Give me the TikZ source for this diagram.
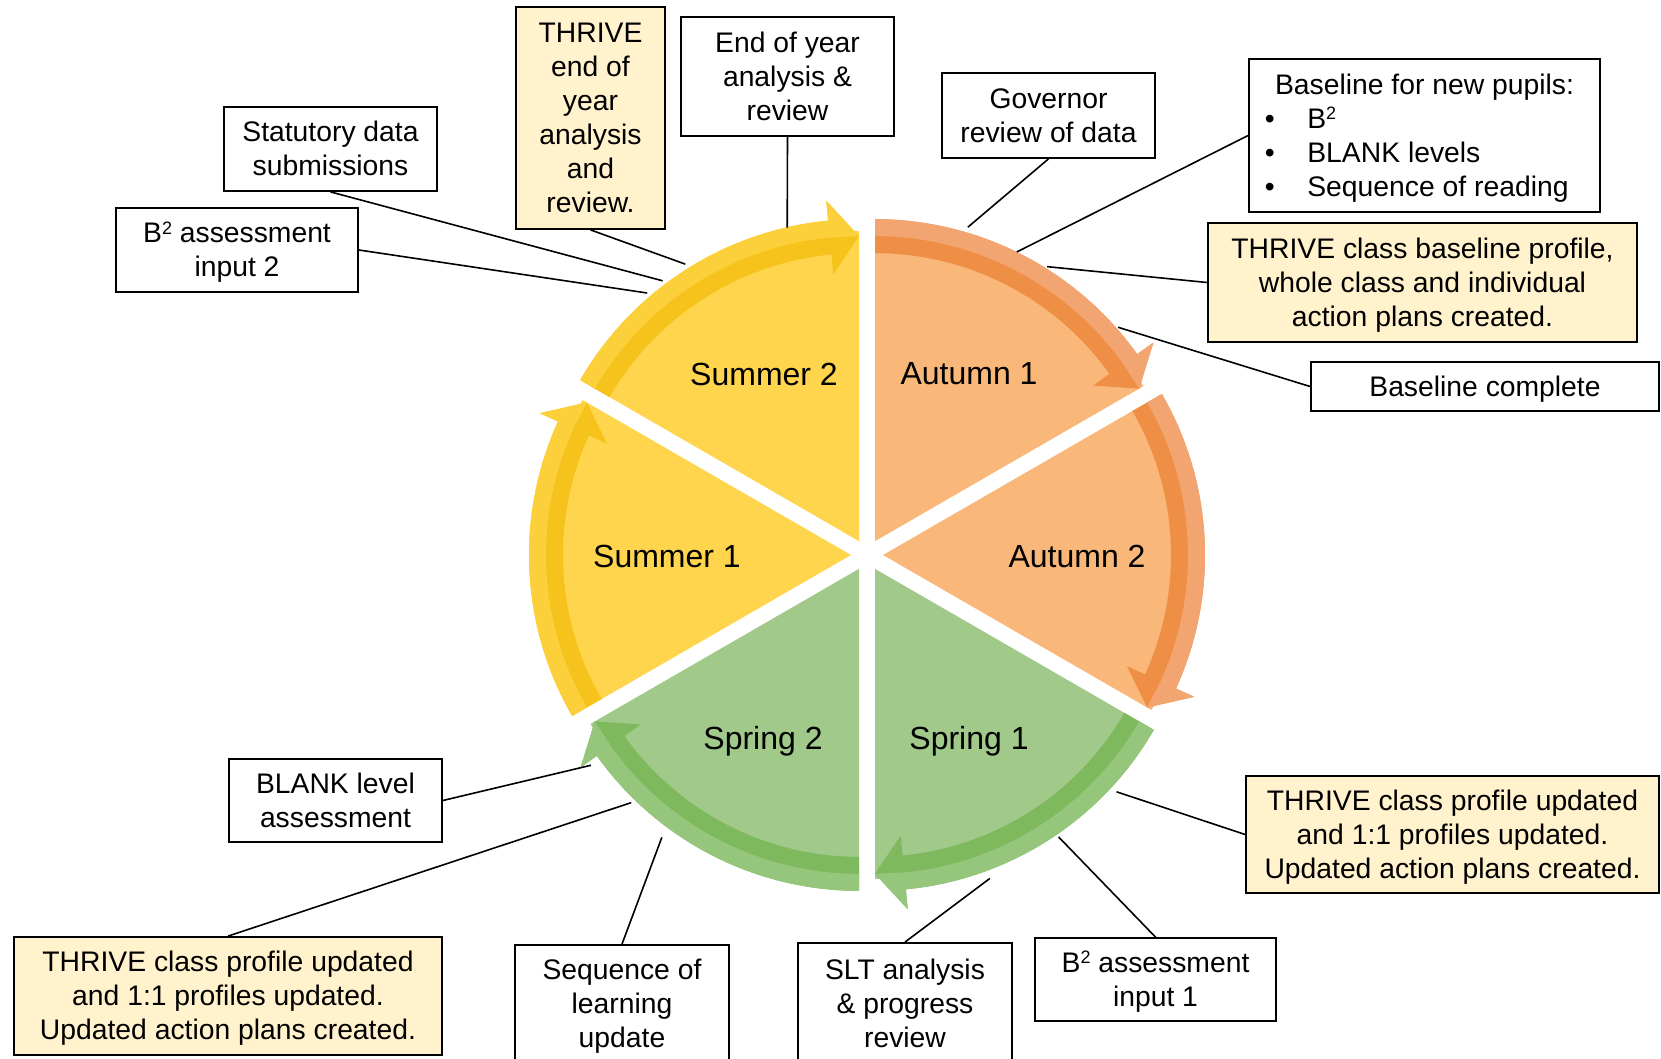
\documentclass[tikz,border=0pt]{standalone}
\usepackage{fontspec}
\setmainfont{Liberation Sans}
\usetikzlibrary{calc}

\definecolor{sumfill}{HTML}{FFD54D}
\definecolor{sumdark}{HTML}{F6C31C}
\definecolor{sumlight}{HTML}{FCD03A}
\definecolor{autfill}{HTML}{F9B779}
\definecolor{autdark}{HTML}{EF8F46}
\definecolor{autlight}{HTML}{F2A571}
\definecolor{sprfill}{HTML}{A0C98A}
\definecolor{sprdark}{HTML}{7EB95D}
\definecolor{sprlight}{HTML}{95C67C}
\definecolor{thrivebg}{HTML}{FFF2CC}

\newcommand{\Bsq}{B\raisebox{0.3em}{\fontsize{9}{9}\selectfont 2}}

\begin{document}
\begin{tikzpicture}[x=0.5pt, y=-0.5pt,
    box/.style={draw, line width=0.9pt, fill=white, align=center, inner sep=0pt,
        font=\fontsize{14.15}{17}\selectfont},
    thrive/.style={box, fill=thrivebg},
    sz/.style 2 args={minimum width=#1*0.5pt, minimum height=#2*0.5pt},
    ln/.style={text height=#1, text depth=3pt},
    season/.style={font=\fontsize{16}{19}\selectfont},
    link/.style={line width=0.8pt}]
    \useasboundingbox (0,0) rectangle (1661,1059);
    \coordinate (c) at (867,555);
    % wedges, each with its arrow on the rim
    \foreach \s/\fl/\dk/\lt in {-90/autfill/autdark/autlight, -30/autfill/autdark/autlight,
        30/sprfill/sprdark/sprlight, 90/sprfill/sprdark/sprlight,
        150/sumfill/sumdark/sumlight, 210/sumfill/sumdark/sumlight}{
        \pgfmathsetmacro\m{\s+30}
        \pgfmathsetmacro\e{\s+60}
        \pgfmathsetmacro\h{\s+54.5}
        \coordinate (a) at ($(c)+(\m:16)$);
        \fill[\fl] (a) -- ($(a)+(\s:310)$) arc[start angle=\s, end angle=\e, radius=310] -- cycle;
        \fill[\dk] ($(a)+(\s:288)$) arc[start angle=\s, end angle=\h, radius=288]
            -- ($(a)+(\h:268)$) -- ($(a)+(\e:305)$) -- ($(a)+(\h:342)$) -- ($(a)+(\h:322)$)
            arc[start angle=\h, end angle=\s, radius=322] -- cycle;
        \fill[\lt] ($(a)+(\s:305)$) arc[start angle=\s, end angle=\h, radius=305]
            -- ($(a)+(\e:305)$) -- ($(a)+(\h:342)$) -- ($(a)+(\h:322)$)
            arc[start angle=\h, end angle=\s, radius=322] -- cycle;
    }
    \node[season] (sum2) at (764,374) {Summer 2};
    \node[season] (aut1) at (969,374) {Autumn 1};
    \node[season] (sum1) at (667,556) {Summer 1};
    \node[season] (aut2) at (1077,556) {Autumn 2};
    \node[season] (spr2) at (763,741) {Spring 2};
    \node[season] (spr1) at (969,741) {Spring 1};

    \node[box, sz={213}{84}, ln=29.8pt] (stat) at (330.5,149) {Statutory data\\submissions};
    \node[box, sz={242}{84}, ln=29.8pt] (bsq2) at (237,250) {\Bsq{} assessment\\input 2};
    \node[thrive, sz={149}{222}, ln=97.8pt] (thrend) at (590.5,118) {THRIVE\\end of\\year\\analysis\\and\\review.};
    \node[box, sz={213}{119}, ln=46.8pt] (endyr) at (787.5,76.5) {End of year\\analysis \&\\review};
    \node[box, sz={213}{85}, ln=29.8pt] (gov) at (1048.5,115.5) {Governor\\review of data};
    \node[box, sz={351}{153}, ln=63.8pt] (newpup) at (1424.5,135.5) {%
        \begin{tabular}[b]{@{}l@{\hspace{16.25pt}}l@{\hspace{7.75pt}}}
        \multicolumn{2}{@{}c@{}}{Baseline for new pupils:}\\
        \textbullet & \Bsq\\
        \textbullet & BLANK levels\\
        \textbullet & Sequence of reading
        \end{tabular}};
    \node[thrive, sz={429}{119}, ln=46.8pt] (thrbase) at (1422.5,282.5) {THRIVE class baseline profile,\\whole class and individual\\action plans created.};
    \node[box, sz={348}{49}, ln=12.8pt] (basedone) at (1485,386.5) {Baseline complete};
    \node[thrive, sz={413}{117}, ln=46.8pt] (thrspr1) at (1452.5,834.5) {THRIVE class profile updated\\and 1:1 profiles updated.\\Updated action plans created.};
    \node[box, sz={241}{83}, ln=29.8pt] (bsq1) at (1155.5,979.5) {\Bsq{} assessment\\input 1};
    \node[box, sz={214}{122}, ln=46.8pt] (slt) at (905,1004) {SLT analysis\\\& progress\\review};
    \node[box, sz={214}{118}, ln=46.8pt] (seqlearn) at (622,1004) {Sequence of\\learning\\update};
    \node[thrive, sz={428}{118}, ln=46.8pt] (thrspr2) at (228,996) {THRIVE class profile updated\\and 1:1 profiles updated.\\Updated action plans created.};
    \node[box, sz={213}{83}, ln=29.8pt] (blank) at (335.5,800.5) {BLANK level\\assessment};

    % where the callouts touch the rim
    \coordinate (r-stat) at ($(c)+(233.3:342)$);
    \coordinate (r-bsq2) at ($(c)+(230:342)$);
    \coordinate (r-thrend) at ($(c)+(238:343)$);
    \coordinate (r-endyr) at ($(c)+(256.3:337)$);
    \coordinate (r-gov) at ($(c)+(-72.9:343)$);
    \coordinate (r-newpup) at ($(c)+(-63.7:338)$);
    \coordinate (r-thrbase) at ($(c)+(-58:340)$);
    \coordinate (r-basedone) at ($(c)+(-42.2:339)$);
    \coordinate (r-thrspr1) at ($(c)+(43.5:344)$);
    \coordinate (r-bsq1) at ($(c)+(55.8:341)$);
    \coordinate (r-slt) at ($(c)+(69.2:346)$);
    \coordinate (r-seqlearn) at ($(c)+(126:349)$);
    \coordinate (r-thrspr2) at ($(c)+(133.6:342)$);
    \coordinate (r-blank) at ($(c)+(142.7:347)$);

    \path[link]
    (stat.south) edge (r-stat)
    (bsq2.east) edge (r-bsq2)
    (thrend.south) edge (r-thrend)
    (endyr.south) edge (r-endyr)
    (gov.south) edge (r-gov)
    (newpup.west) edge (r-newpup)
    (thrbase.west) edge (r-thrbase)
    (basedone.west) edge (r-basedone)
    (thrspr1.west) edge (r-thrspr1)
    (bsq1.north) edge (r-bsq1)
    (slt.north) edge (r-slt)
    (seqlearn.north) edge (r-seqlearn)
    (thrspr2.north) edge (r-thrspr2)
    (blank.east) edge (r-blank)
    ;
\end{tikzpicture}
\end{document}
